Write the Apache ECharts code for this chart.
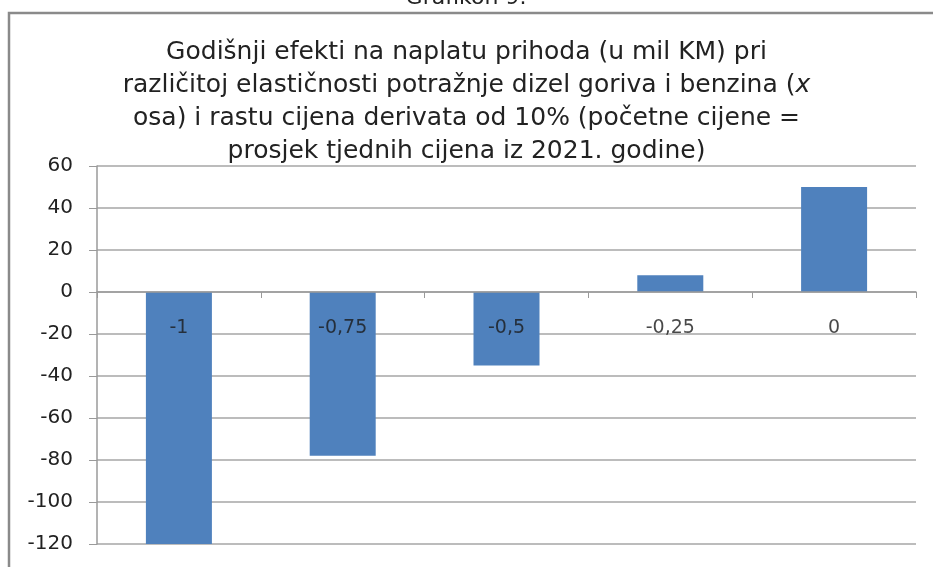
<!DOCTYPE html>
<html>
<head>
<meta charset="utf-8">
<script src="https://cdn.jsdelivr.net/npm/echarts@6/dist/echarts.min.js"></script>
<style>
  html, body { margin: 0; padding: 0; background: #fff; }
  #chart { width: 933px; height: 567px; }
</style>
</head>
<body>
<div id="chart"></div>
<script>
// elastičnost potražnje (x osa)
const categories = ['-1', '-0,75', '-0,5', '-0,25', '0']
// godišnji efekt na naplatu prihoda, mil KM
const values = [-120, -78, -35, 8, 50]

const yMin = -120
const yMax = 60
const yStep = 20

const chart = echarts.init(document.getElementById('chart'))

chart.setOption({
  animation: false,
  backgroundColor: '#fff',
  textStyle: { fontFamily: 'DejaVu Sans' },
  title: {
    text: 'Godišnji efekti na naplatu prihoda (u mil KM) pri\nrazličitoj elastičnosti potražnje dizel goriva i benzina ({i|x}\nosa) i rastu cijena derivata od 10% (početne cijene =\nprosjek tjednih cijena iz 2021. godine)',
    left: 'center',
    top: 31,
    textStyle: {
      fontFamily: 'DejaVu Sans',
      fontSize: 25,
      fontWeight: 'normal',
      color: '#222',
      lineHeight: 33,
      rich: {
        i: { fontFamily: 'DejaVu Sans', fontSize: 25, fontStyle: 'italic', color: '#222', lineHeight: 33 }
      }
    }
  },
  graphic: [
    {
      type: 'polyline',
      shape: { points: [[9, 567], [9, 13], [940, 13]] },
      style: { stroke: '#8a8a8a', lineWidth: 2.5, fill: null }
    },
    {
      type: 'text',
      x: 466,
      y: 9,
      style: {
        text: 'Grafikon 9.',
        fontFamily: 'DejaVu Sans',
        fontSize: 22,
        fill: '#222',
        align: 'center',
        verticalAlign: 'bottom'
      }
    }
  ],
  grid: { left: 97, right: 17, top: 166, bottom: 23, containLabel: false, outerBoundsMode: 'none' },
  xAxis: {
    type: 'category',
    data: categories,
    axisLine: { onZero: true, lineStyle: { color: '#9a9a9a', width: 1.5 } },
    axisTick: { show: true, length: 6, lineStyle: { color: '#9a9a9a' } },
    // oznake kategorija crtaju se uz nultu liniju preko pomoćne serije ispod
    axisLabel: { show: false },
    z: 10
  },
  yAxis: {
    type: 'value',
    min: yMin,
    max: yMax,
    interval: yStep,
    axisLine: { show: true, lineStyle: { color: '#9a9a9a', width: 1.5 } },
    axisTick: { show: true, length: 8, lineStyle: { color: '#9a9a9a' } },
    axisLabel: { fontFamily: 'DejaVu Sans', fontSize: 20, color: '#222', margin: 24 },
    splitLine: { lineStyle: { color: '#a6a6a6', width: 1.5 } }
  },
  series: [
    {
      type: 'bar',
      data: values,
      barWidth: 66,
      itemStyle: { color: '#4f81bd' }
    },
    {
      type: 'scatter',
      data: categories.map(() => 0),
      symbolSize: 0,
      silent: true,
      z: 5,
      label: {
        show: true,
        position: 'bottom',
        distance: 27,
        formatter: p => p.name,
        fontFamily: 'DejaVu Sans',
        fontSize: 19,
        color: '#1a1a1a'
      }
    }
  ]
})
</script>
</body>
</html>
